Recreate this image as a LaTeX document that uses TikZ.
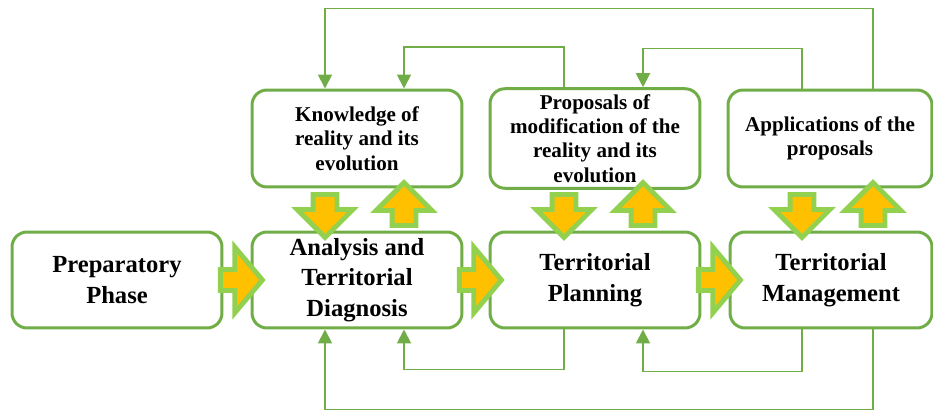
\documentclass[tikz,border=0pt]{standalone}
\usepackage{fontspec}
\setmainfont{Liberation Serif}
\usetikzlibrary{arrows.meta,shapes.arrows}
\definecolor{boxgreen}{RGB}{112,173,71}
\definecolor{arrgreen}{RGB}{146,208,80}
\definecolor{arrorange}{RGB}{255,192,0}

\begin{document}
\begin{tikzpicture}
	[x=0.02cm,y=-0.02cm,
	mainbox/.style={draw=boxgreen, line width=1.7pt, rounded corners=0.3cm, fill=white, minimum width=4.2cm, minimum height=1.92cm, align=center, font=\fontsize{14}{17.5}\selectfont\bfseries},
	topbox/.style={mainbox, minimum height=1.94cm, font=\fontsize{12}{13.8}\selectfont\bfseries},
	blockarr/.style={single arrow, draw=arrgreen, fill=arrorange, line width=2.8pt, inner sep=0.19cm, single arrow head extend=0.32cm, minimum height=0.86cm, minimum width=0pt},
	rightarr/.style={blockarr, inner sep=0.16cm, single arrow head extend=0.45cm, single arrow tip angle=100, minimum height=0.84cm},
	downarr/.style={blockarr, shape border rotate=270},
	uparr/.style={blockarr, shape border rotate=90},
	fb/.style={draw=boxgreen, line width=1.1pt, -{Triangle[length=0.28cm,width=0.28cm]}}]
	\useasboundingbox (0,0) rectangle (933,412);
	
	\node[mainbox] (prep) at (117,280) {Preparatory\\Phase};
	\node[mainbox] (anal) at (357,280) {Analysis and\\Territorial\\Diagnosis};
	\node[mainbox] (plan) at (595,280) {Territorial\\Planning};
	\node[mainbox, minimum width=4.04cm] (mgmt) at (831,280) {Territorial\\Management};
	\node[topbox] (know) at (357,138.5) {Knowledge of\\reality and its\\evolution};
	\node[topbox] (prop) at (595,138.5) {Proposals of\\modification of the\\reality and its\\evolution};
	\node[topbox, minimum width=4.08cm] (appl) at (830,138.5) {Applications of the\\proposals};
	
	\foreach \x [count=\i] in {237,476,715}
	\node[rightarr] (ra\i) at (\x,280) {};
	\foreach \dx/\ux [count=\i] in {325/404,564/643,802/873}
	{
		\node[downarr] (dn\i) at (\dx,210) {};
		\node[uparr] (up\i) at (\ux,210) {};
	}
	
	\draw[fb] (appl.north -| up3) -- ++(0,-80) -| (know.north -| dn1);
	\draw[fb] (prop.north -| dn2) -- ++(0,-40) -| (know.north -| up1);
	\draw[fb] (appl.north -| dn3) -- ++(0,-40) -| (prop.north -| up2);
	\draw[fb] (mgmt.south -| up3) -- ++(0,80) -| (anal.south -| dn1);
	\draw[fb] (plan.south -| dn2) -- ++(0,40) -| (anal.south -| up1);
	\draw[fb] (mgmt.south -| dn3) -- ++(0,42) -| (plan.south -| up2);
\end{tikzpicture}
\end{document}
